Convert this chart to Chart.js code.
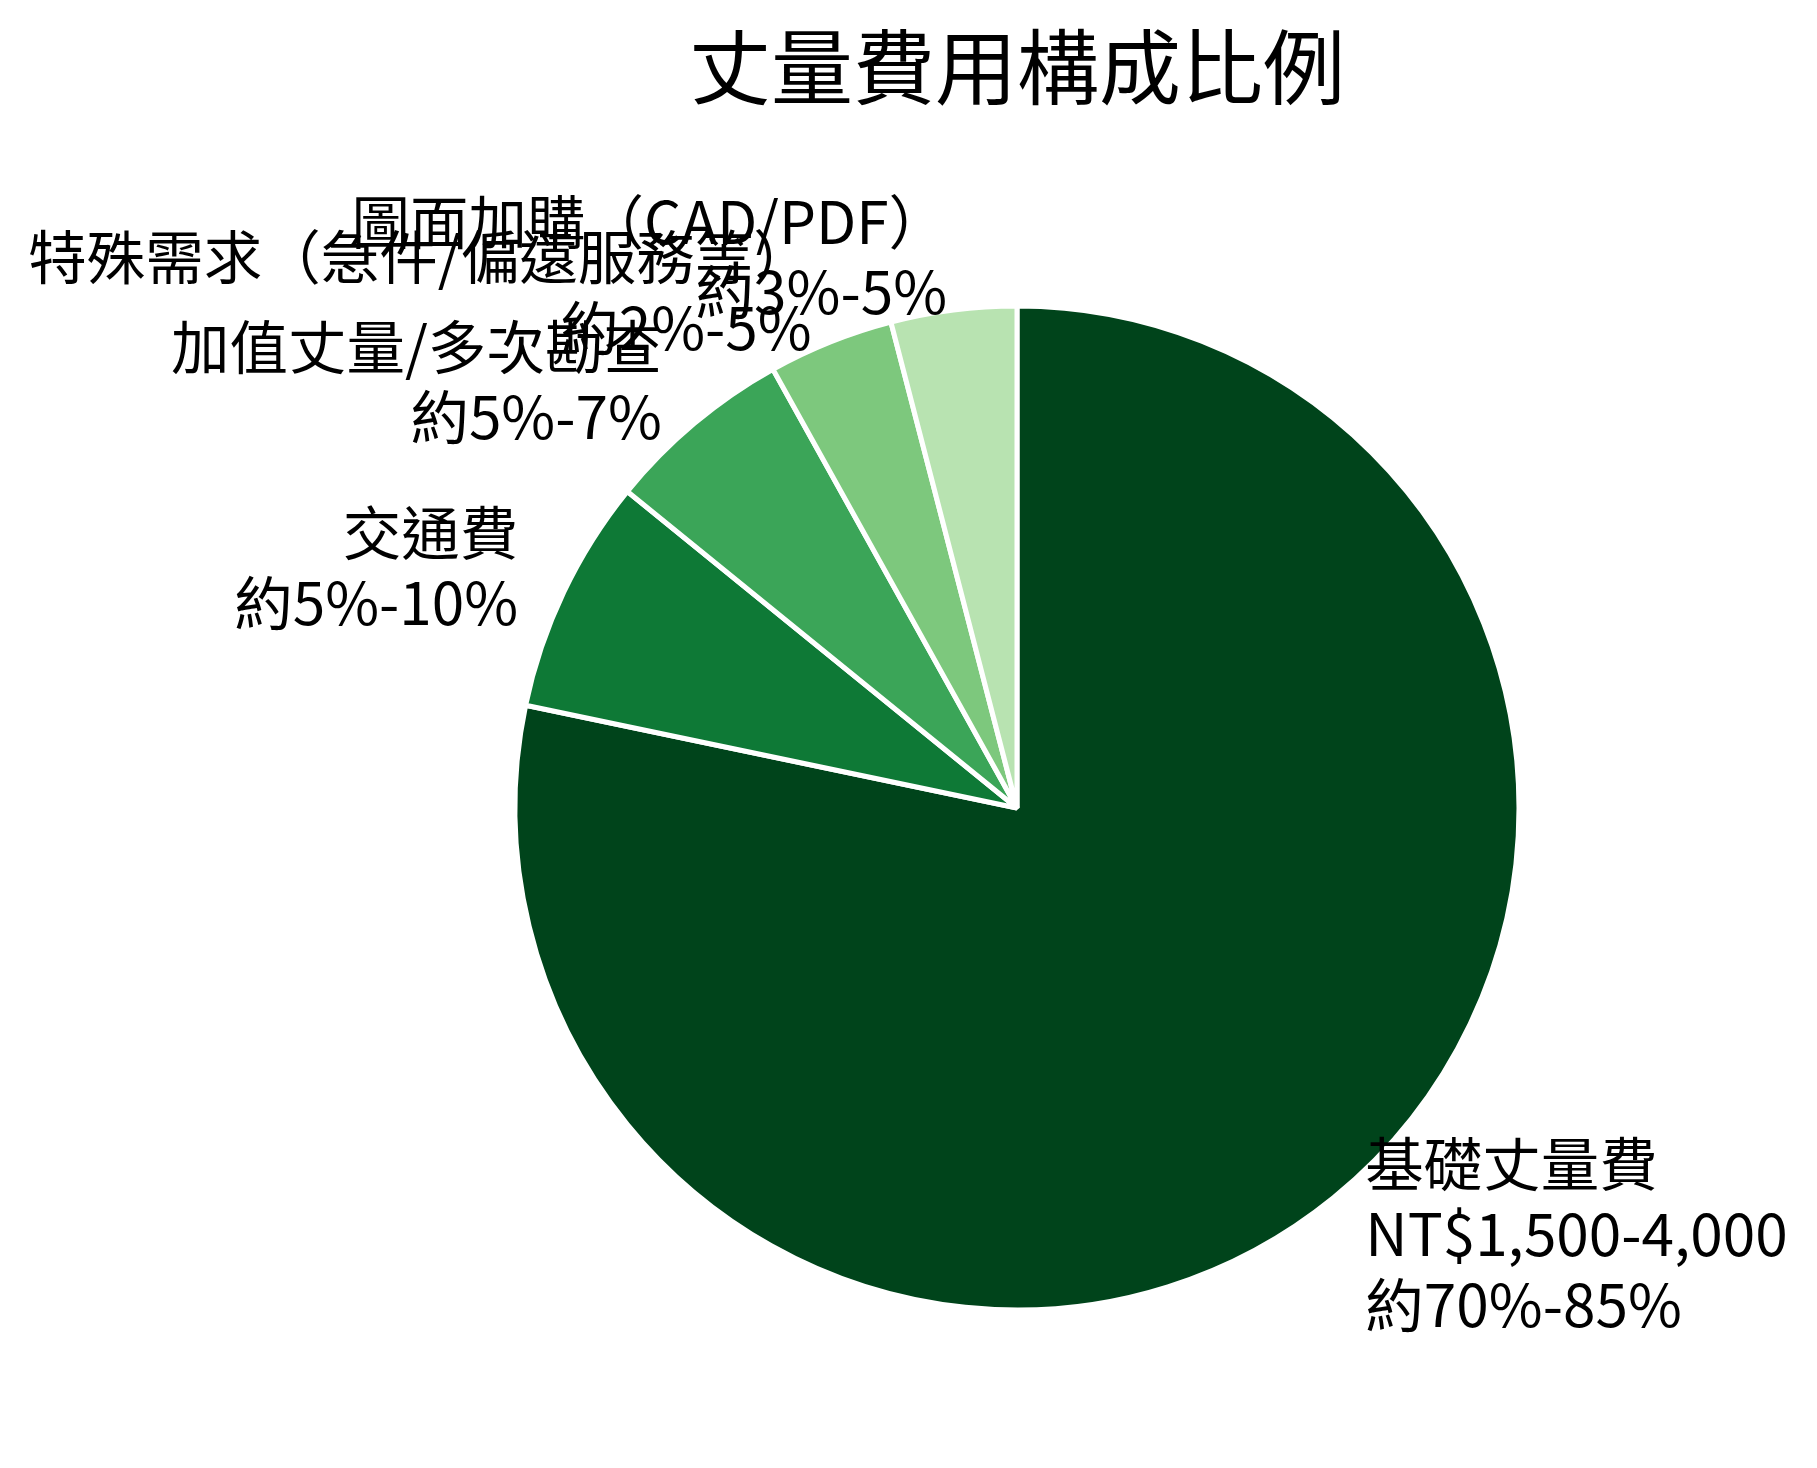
<!DOCTYPE html>
<html>
<head>
<meta charset="utf-8">
<script src="https://cdn.jsdelivr.net/npm/chart.js@4.4.1/dist/chart.umd.min.js"></script>
<style>
  html, body { margin: 0; padding: 0; background: #ffffff; }
  #wrap { width: 1817px; height: 1468px; position: relative; }
</style>
</head>
<body>
<div id="wrap"><canvas id="c" width="1817" height="1468"></canvas></div>
<script>
// ---- data ----
const titleText = '丈量費用構成比例';
const categories = ['基礎丈量費', '交通費', '加值丈量/多次勘查', '特殊需求（急件/偏遠服務等）', '圖面加購（CAD/PDF）'];
const shares = [77.5, 7.5, 6, 4, 4];
const detailLines = [
  ['NT$1,500-4,000', '約70%-85%'],
  ['約5%-10%'],
  ['約5%-7%'],
  ['約2%-5%'],
  ['約3%-5%']
];
const sliceColors = ['#00441b', '#0e7936', '#3ba558', '#7dc87d', '#b8e3b1'];

const FONT = '"Noto Sans CJK TC", "Noto Sans CJK SC", "Noto Sans", sans-serif';
const LABEL_SIZE = 58.5;
const LABEL_LINE = 70.5;
const BORDER_W = 5;

const sliceLabels = {
  id: 'sliceLabels',
  afterDatasetsDraw(chart) {
    const ctx = chart.ctx;
    const meta = chart.getDatasetMeta(0);
    ctx.save();
    ctx.font = LABEL_SIZE + 'px ' + FONT;
    ctx.fillStyle = '#000000';
    ctx.textBaseline = 'middle';
    meta.data.forEach((arc, i) => {
      const p = arc.getProps(['x', 'y', 'startAngle', 'endAngle', 'outerRadius'], true);
      const mid = (p.startAngle + p.endAngle) / 2;
      const r = (p.outerRadius - BORDER_W / 2) * 1.1 + 3;
      const lx = p.x + Math.cos(mid) * r;
      const ly = p.y + Math.sin(mid) * r - 3;
      const lines = [categories[i]].concat(detailLines[i]);
      ctx.textAlign = Math.cos(mid) < 0 ? 'right' : 'left';
      const y0 = ly - (lines.length - 1) * LABEL_LINE / 2;
      lines.forEach((t, k) => ctx.fillText(t, lx, y0 + k * LABEL_LINE));
    });
    ctx.restore();
  }
};

new Chart(document.getElementById('c'), {
  type: 'pie',
  data: {
    labels: categories,
    datasets: [{
      data: shares,
      backgroundColor: sliceColors,
      borderColor: '#ffffff',
      borderWidth: BORDER_W,
      radius: 502,
      hoverOffset: 0
    }]
  },
  options: {
    responsive: false,
    animation: false,
    events: [],
    layout: { padding: { left: 317, right: 100, top: 0, bottom: 156 } },
    plugins: {
      legend: { display: false },
      tooltip: { enabled: false },
      title: {
        display: true,
        text: titleText,
        color: '#000000',
        font: { family: FONT, size: 82, weight: 'normal', lineHeight: 1.2 },
        padding: { top: 18, bottom: 187.6 }
      }
    }
  },
  plugins: [sliceLabels]
});
</script>
</body>
</html>
